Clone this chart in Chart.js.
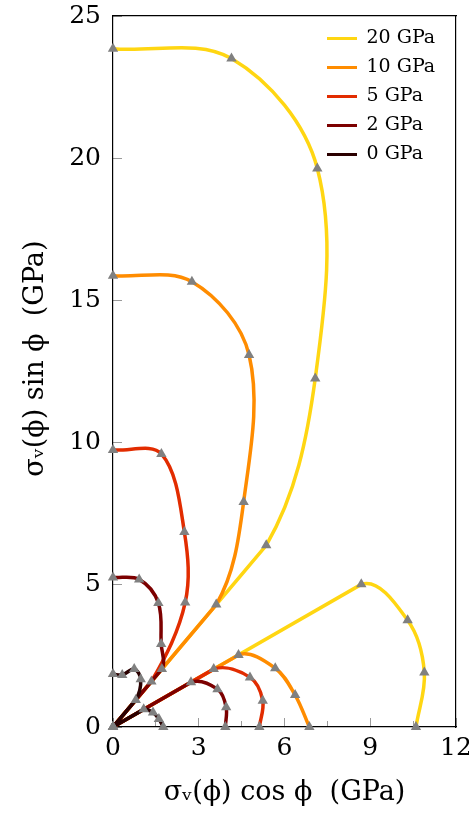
<!DOCTYPE html>
<html lang="en">
<head>
    <meta charset="UTF-8">
    <title>Polar stress curves</title>
    <script src="https://cdn.jsdelivr.net/npm/chart.js"></script>
    <style>
        html, body { margin: 0; padding: 0; background: #fff; }
        .chart-container { width: 469px; height: 817px; }
    </style>
</head>
<body>
    <div class="chart-container">
        <canvas id="myChart"></canvas>
    </div>
    <script>
        // sigma_v(phi) in GPa, sampled every 10 degrees (phi = 90 ... 0)
        const phi = [90, 80, 70, 60, 50, 40, 30, 20, 10, 0];
        const labels = ['20 GPa', '10 GPa', '5 GPa', '2 GPa', '0 GPa'];
        const sigma20 = [23.85, 23.87, 20.90, 14.15, 8.34, 0, 10.03, 10.97, 11.06, 10.60];
        const sigma10 = [15.87, 15.90, 13.92, 9.14, 5.62, 0, 5.07, 6.04, 6.47, 6.87];
        const sigma5  = [9.74, 9.75, 7.30, 5.05, 2.09, 0, 4.07, 5.10, 5.32, 5.12];
        const sigma2  = [5.26, 5.27, 4.64, 3.37, 2.66, 0, 3.15, 3.89, 4.02, 3.93];
        const sigma0  = [1.86, 1.86, 2.17, 1.94, 1.24, 0, 1.24, 1.49, 1.63, 1.76];
        const xTicks = [0, 3, 6, 9, 12];
        const xMinorTicks = [0, 1.5, 3, 4.5, 6, 7.5, 9, 10.5, 12];
        const yTicks = [0, 5, 10, 15, 20, 25];

        const colors = ['#FFD612', '#FF8C00', '#E22C00', '#7C0000', '#2A0000'];
        const serif = "'DejaVu Serif', 'Liberation Serif', serif";
        const series = [sigma20, sigma10, sigma5, sigma2, sigma0];
        const hidden = 'rgba(0,0,0,0)';

        function point(s, p) {
            const r = p * Math.PI / 180;
            return { x: s * Math.cos(r), y: s * Math.sin(r) };
        }
        function branch(sig, from, to) {
            const pts = [];
            for (let k = from; k <= to; k++) pts.push(point(sig[k], phi[k]));
            return pts;
        }

        // triangles on every sample, drawn above all lines
        const markerSets = series.map((sig, i) => ({
            label: labels[i] + ' marks',
            data: branch(sig, 0, phi.length - 1),
            showLine: false,
            pointStyle: 'triangle',
            pointRadius: 6,
            pointHoverRadius: 6,
            backgroundColor: '#808080',
            borderWidth: 0,
            clip: false
        }));

        // each curve: upper lobe (90..40), straight radial part (50..30), lower lobe (40..0).
        // The lobes keep the origin as a neighbour for the spline, but that segment is not drawn.
        const pieces = [
            { from: 0, to: 5, tension: 0.35, skip: c => c.p1DataIndex === 5 },
            { from: 4, to: 6, tension: 0, skip: () => false },
            { from: 5, to: 9, tension: 0.35, skip: c => c.p0DataIndex === 0 }
        ];
        const lineSets = [];
        for (let i = series.length - 1; i >= 0; i--) { // 0 GPa first -> drawn on top
            pieces.forEach(pc => {
                lineSets.push({
                    label: labels[i],
                    data: branch(series[i], pc.from, pc.to),
                    showLine: true,
                    tension: pc.tension,
                    pointRadius: 0,
                    pointHoverRadius: 0,
                    borderColor: colors[i],
                    borderWidth: 3.5,
                    borderCapStyle: 'round',
                    borderJoinStyle: 'round',
                    segment: { borderColor: c => pc.skip(c) ? hidden : undefined },
                    fill: false,
                    clip: false
                });
            });
        }

        const legendInside = {
            id: 'legendInside',
            afterLayout(chart) {
                const lg = chart.legend, area = chart.chartArea;
                lg.left = area.right - 139;
                lg.right = lg.left + lg.width;
                lg.top = area.top + 3;
                lg.bottom = lg.top + lg.height;
            }
        };

        const tickFont = { family: serif, size: 25 };
        const titleFont = { family: serif, size: 27 };

        const config = {
            type: 'scatter',
            data: { datasets: markerSets.concat(lineSets) },
            plugins: [legendInside],
            options: {
                responsive: true,
                maintainAspectRatio: false,
                animation: false,
                layout: { padding: { left: 0, right: 13, top: 16, bottom: 0 } },
                plugins: {
                    tooltip: { enabled: false },
                    legend: {
                        position: 'chartArea',
                        align: 'start',
                        onClick: null,
                        labels: {
                            boxWidth: 30,
                            boxHeight: 3,
                            padding: 10,
                            font: { family: serif, size: 19 },
                            color: '#000',
                            generateLabels: () => labels.map((t, i) => ({
                                text: t,
                                fillStyle: colors[i],
                                strokeStyle: colors[i],
                                fontColor: '#000',
                                lineWidth: 0,
                                hidden: false,
                                datasetIndex: markerSets.length + (series.length - 1 - i) * pieces.length
                            }))
                        }
                    }
                },
                scales: {
                    x: {
                        type: 'linear',
                        position: 'bottom',
                        min: 0,
                        max: 12,
                        afterBuildTicks: s => { s.ticks = xTicks.map(v => ({ value: v })); },
                        afterFit: s => { s.height = 90; s.paddingLeft = 0; s.paddingRight = 0; },
                        ticks: { font: tickFont, color: '#000', padding: 15, maxRotation: 0 },
                        grid: { drawOnChartArea: false, tickLength: -9, tickColor: '#9a9a9a', tickWidth: 1 },
                        border: { color: '#000', width: 1.2 },
                        title: {
                            display: true,
                            text: 'σᵥ(ϕ) cos ϕ  (GPa)',
                            font: titleFont,
                            color: '#000',
                            padding: { top: 0, bottom: 8 }
                        }
                    },
                    xMinor: {
                        type: 'linear',
                        position: 'bottom',
                        weight: -1,
                        min: 0,
                        max: 12,
                        afterBuildTicks: s => { s.ticks = xMinorTicks.map(v => ({ value: v })); },
                        afterFit: s => { s.height = 0; s.paddingLeft = 0; s.paddingRight = 0; },
                        ticks: { display: false },
                        grid: { drawOnChartArea: false, tickLength: -6, tickColor: '#9a9a9a', tickWidth: 1 },
                        border: { display: false }
                    },
                    xTop: {
                        type: 'linear',
                        position: 'top',
                        min: 0,
                        max: 12,
                        afterFit: s => { s.height = 0; s.paddingLeft = 0; s.paddingRight = 0; },
                        ticks: { display: false },
                        grid: { display: false },
                        border: { color: '#000', width: 1.2 }
                    },
                    y: {
                        type: 'linear',
                        position: 'left',
                        min: 0,
                        max: 25,
                        afterBuildTicks: s => { s.ticks = yTicks.map(v => ({ value: v })); },
                        afterFit: s => { s.width = 113; s.paddingTop = 0; s.paddingBottom = 0; },
                        ticks: { font: tickFont, color: '#000', padding: 21 },
                        grid: { drawOnChartArea: false, tickLength: -9, tickColor: '#9a9a9a', tickWidth: 1 },
                        border: { color: '#000', width: 1.2 },
                        title: {
                            display: true,
                            text: '   σᵥ(ϕ) sin ϕ  (GPa)',
                            font: titleFont,
                            color: '#000',
                            padding: { top: 20, bottom: 0 }
                        }
                    },
                    yRight: {
                        type: 'linear',
                        position: 'right',
                        min: 0,
                        max: 25,
                        afterFit: s => { s.width = 0; s.paddingTop = 0; s.paddingBottom = 0; },
                        ticks: { display: false },
                        grid: { display: false },
                        border: { color: '#000', width: 1.2 }
                    }
                }
            }
        };

        const myChart = new Chart(document.getElementById('myChart'), config);
    </script>
</body>
</html>
